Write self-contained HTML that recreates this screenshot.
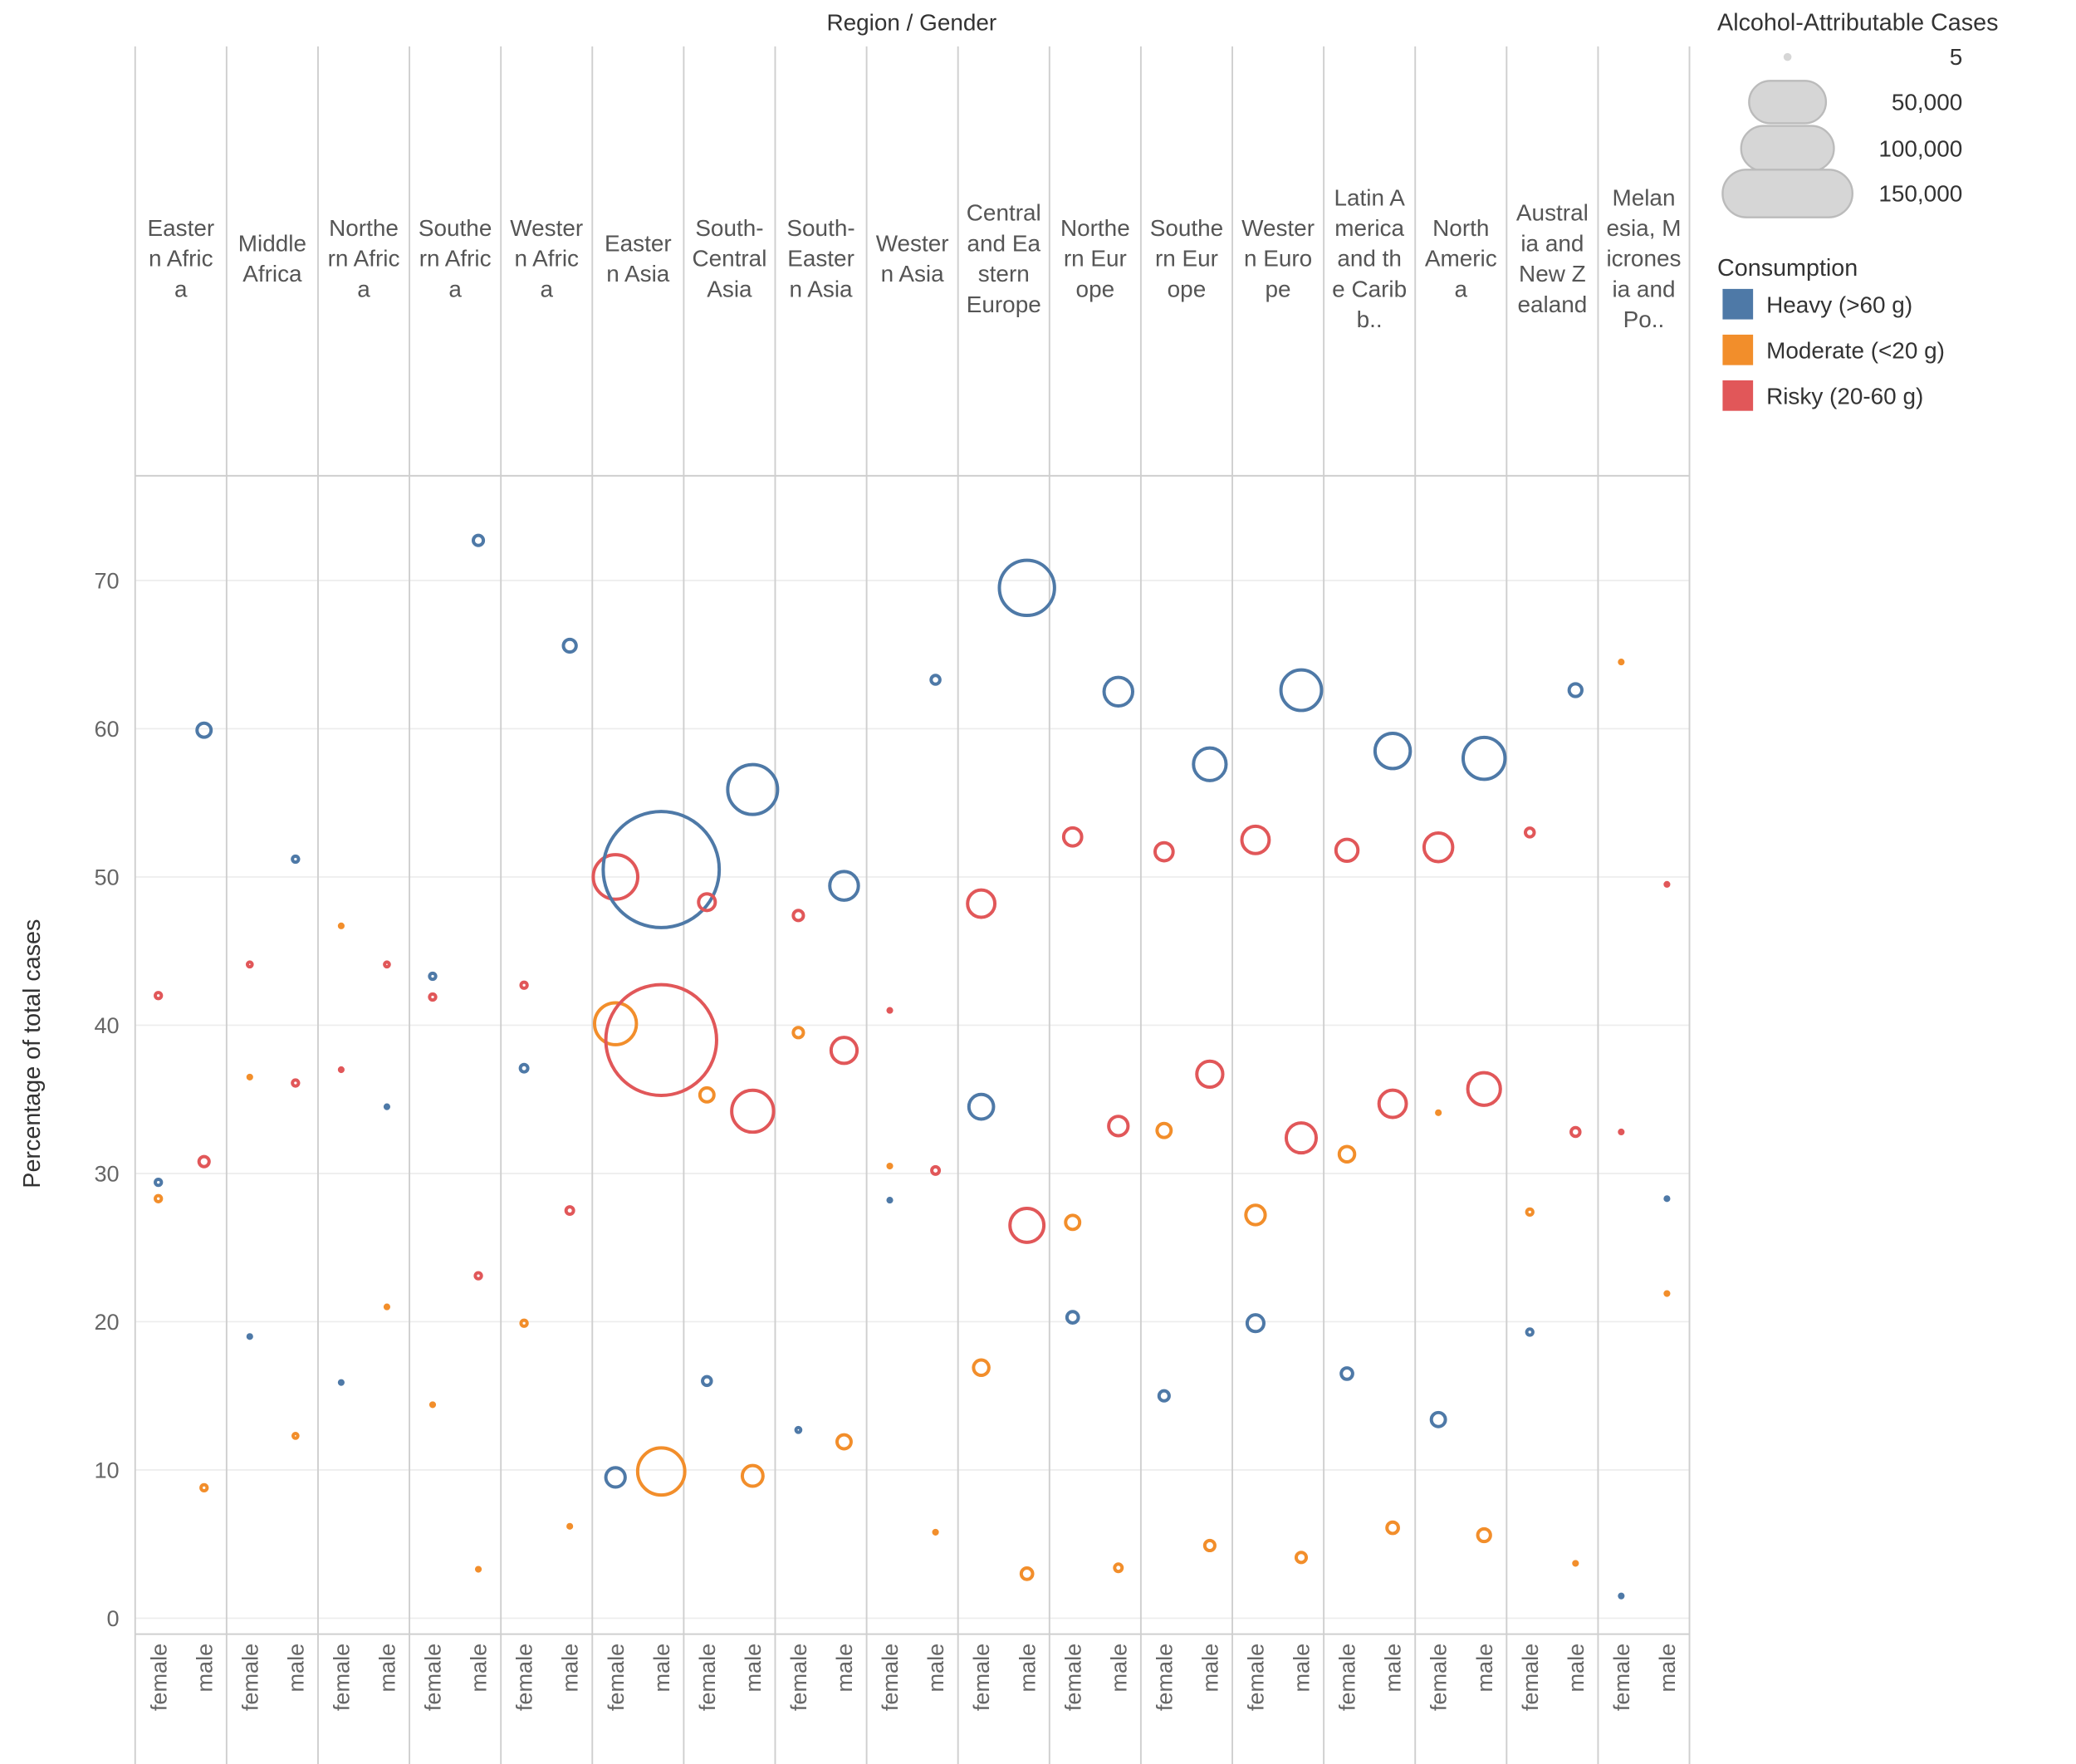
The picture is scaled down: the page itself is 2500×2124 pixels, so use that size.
<!DOCTYPE html>
<html><head><meta charset="utf-8"><style>html,body{margin:0;padding:0;background:#fff}svg{display:block;font-family:"Liberation Sans",sans-serif}</style></head>
<body>
<svg id="chart" width="2500" height="2124" viewBox="0 0 1566.7 1331" preserveAspectRatio="none" xmlns="http://www.w3.org/2000/svg">
<g id="grid"></g><g id="frame"></g><g id="headers"></g><g id="marks"></g><g id="axis"></g><g id="legend"></g>
</svg>
<script>
const regions=[["Easter","n Afric","a"],["Middle","Africa"],["Northe","rn Afric","a"],["Southe","rn Afric","a"],["Wester","n Afric","a"],["Easter","n Asia"],["South-","Central","Asia"],["South-","Easter","n Asia"],["Wester","n Asia"],["Central","and Ea","stern","Europe"],["Northe","rn Eur","ope"],["Southe","rn Eur","ope"],["Wester","n Euro","pe"],["Latin A","merica","and th","e Carib","b.."],["North","Americ","a"],["Austral","ia and","New Z","ealand"],["Melan","esia, M","icrones","ia and","Po.."]];
const genders=["female","male"];
const categories=["Heavy (>60 g)","Moderate (<20 g)","Risky (20-60 g)"];
const heavyF=[29.4,19.0,15.9,43.3,37.1,9.5,16.0,12.7,28.2,34.5,20.3,15.0,19.9,16.5,13.4,19.3,1.5];
const moderateF=[28.3,36.5,46.7,14.4,19.9,40.1,35.3,39.5,30.5,16.9,26.7,32.9,27.2,31.3,34.1,27.4,64.5];
const riskyF=[42.0,44.1,37.0,41.9,42.7,50.0,48.3,47.4,41.0,48.2,52.7,51.7,52.5,51.8,52.0,53.0,32.8];
const heavyM=[59.9,51.2,34.5,72.7,65.6,50.5,55.9,49.4,63.3,69.5,62.5,57.6,62.6,58.5,58.0,62.6,28.3];
const moderateM=[8.8,12.3,21.0,3.3,6.2,9.9,9.6,11.9,5.8,3.0,3.4,4.9,4.1,6.1,5.6,3.7,21.9];
const riskyM=[30.8,36.1,44.1,23.1,27.5,39.0,34.2,38.3,30.2,26.5,33.2,36.7,32.4,34.7,35.7,32.8,49.5];
const casesHeavyF=[720,370,370,720,950,4270,1200,530,370,6520,1790,1480,3330,1790,2500,720,370];
const casesModerateF=[720,370,370,370,720,17100,2500,1480,370,2900,2500,2500,4270,2900,370,720,370];
const casesRiskyF=[720,530,370,720,720,19170,3330,1480,370,7820,3790,3790,7820,5340,8520,1200,370];
const casesHeavyM=[2500,720,370,1480,2130,119800,23670,8520,1200,28640,8520,10780,16110,12440,17100,2130,370];
const casesModerateM=[720,530,370,370,370,21360,4790,2500,370,1790,950,1480,1480,1790,2130,370,370];
const casesRiskyM=[1480,720,530,720,950,109400,17100,7160,950,11600,4270,7160,9250,7820,10780,1200,370];
const yTicks=[0,10,20,30,40,50,60,70];
const colors=["#4e79a7","#f28e2b","#e15759"];
const NS="http://www.w3.org/2000/svg";
const X0=102,COLW=69,X1=1275,TOP=35,HB=359,PB=1233,BOT=1331;
const y=v=>1221-v*11.186;
const rad=c=>0.13*Math.sqrt(c);
const colX=(i,g)=>X0+COLW*i+(g===0?17.5:52);
function mk(tag,attrs,parent,text){const e=document.createElementNS(NS,tag);for(const k in attrs)e.setAttribute(k,attrs[k]);if(text!==undefined)e.textContent=text;parent.appendChild(e);return e;}
const grid=document.getElementById('grid'),frame=document.getElementById('frame'),headers=document.getElementById('headers'),marks=document.getElementById('marks'),axis=document.getElementById('axis'),legend=document.getElementById('legend');
yTicks.forEach(t=>{
 const l=mk('line',{x1:X0,x2:X1,y1:y(t),y2:y(t),stroke:'#ececec','stroke-width':1},grid);
 
 
 const tx=mk('text',{x:90,y:y(t)+6,'text-anchor':'end','font-size':17,fill:'#666'},axis,String(t));
 
 
});
for(let i=0;i<=regions.length;i++){
 const l=mk('line',{x1:X0+COLW*i,x2:X0+COLW*i,y1:TOP,y2:BOT,stroke:'#cfcfcf','stroke-width':1.2},frame);
 
 
}
[HB,PB].forEach(yy=>{const l=mk('line',{x1:X0,x2:X1,y1:yy,y2:yy,stroke:'#cfcfcf','stroke-width':1.2},frame);
 
 });
regions.forEach((lines,i)=>{
 const cx=X0+COLW*i+COLW/2;const n=lines.length;
 const t=mk('text',{'text-anchor':'middle','font-size':17.5,fill:'#555'},headers);
 
 
 lines.forEach((s,k)=>{mk('tspan',{x:cx,y:195+(k-(n-1)/2)*23+6},t,s);});
 genders.forEach((g,gi)=>{
  const gx=colX(i,gi);
  const gt=mk('text',{x:0,y:0,'text-anchor':'end','font-size':17,fill:'#666',transform:`translate(${gx+6},1240) rotate(-90)`},axis,g);
  
  
 });
});
const vals=[[heavyF,moderateF,riskyF],[heavyM,moderateM,riskyM]];
const cs=[[casesHeavyF,casesModerateF,casesRiskyF],[casesHeavyM,casesModerateM,casesRiskyM]];
regions.forEach((r,i)=>{for(let g=0;g<2;g++)for(let c=0;c<3;c++){
 const rr=Math.max(rad(cs[g][c][i])-1.2,1.3);
 const e=mk('circle',{cx:colX(i,g),cy:y(vals[g][c][i]),r:rr,fill:'none',stroke:colors[c],'stroke-width':2.5},marks);
 
 
}});
let t=mk('text',{x:688,y:23,'text-anchor':'middle','font-size':17.5,fill:'#333'},axis,'Region  /  Gender');


t=mk('text',{x:0,y:0,'text-anchor':'middle','font-size':18,fill:'#333',transform:'translate(30,795) rotate(-90)'},axis,'Percentage of total cases');


t=mk('text',{x:1296,y:23,'font-size':18,fill:'#333'},legend,'Alcohol-Attributable Cases');


const sizeLabels=["5","50,000","100,000","150,000"],sizeY=[43,77,112,146],sizeW=[6,58,70,98],sizeH=[6,32,34,36];
sizeLabels.forEach((s,k)=>{
 const w=sizeW[k],h=sizeH[k];
 const sh=mk('rect',{x:1349-w/2,y:sizeY[k]-h/2,width:w,height:h,rx:Math.min(w,h)/2,fill:'#d6d6d6',stroke:'#bbb','stroke-width':k?1.5:0},legend);
 
 
 const lt=mk('text',{x:1481,y:sizeY[k]+6,'text-anchor':'end','font-size':17.5,fill:'#333'},legend,s);
 
 
});
t=mk('text',{x:1296,y:208,'font-size':18,fill:'#333'},legend,'Consumption');


categories.forEach((c,k)=>{
 const yy=218+k*34.5;
 const sw=mk('rect',{x:1300,y:yy,width:23,height:23,fill:colors[k]},legend);
 
 
 const lt=mk('text',{x:1333,y:yy+18,'font-size':17.5,fill:'#333'},legend,c);
 
 
});
</script>
</body></html>
